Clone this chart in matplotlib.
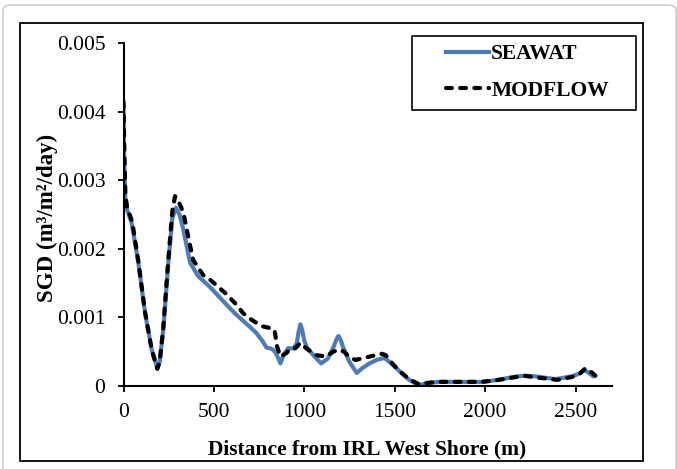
import matplotlib
matplotlib.use("Agg")
import matplotlib.pyplot as plt
from matplotlib.patches import Rectangle, FancyBboxPatch
from matplotlib.lines import Line2D

# distance from shore (m) and SGD (m3/m2/day) for each model
seawat_x = [0, 4, 10, 20, 45, 82, 119, 156, 187, 200, 220, 248, 270, 290, 310,
            331, 368, 414, 480, 561, 620, 662, 700, 736, 770, 791, 810, 827,
            845, 868, 885, 910, 940, 958, 968, 978, 988, 1000, 1015, 1050,
            1093, 1130, 1160, 1178, 1189, 1200, 1215, 1250, 1290, 1320, 1360,
            1400, 1443, 1480, 1525, 1580, 1620, 1645, 1700, 1745, 1850, 1983,
            2076, 2150, 2214, 2280, 2388, 2478, 2520, 2544, 2570, 2599]
seawat_y = [4.10, 3.30, 2.75, 2.57, 2.38, 1.80, 1.07, 0.53, 0.26, 0.35, 0.82,
            1.80, 2.45, 2.60, 2.50, 2.28, 1.80, 1.60, 1.44, 1.21, 1.05, 0.95,
            0.86, 0.77, 0.65, 0.56, 0.55, 0.53, 0.47, 0.33, 0.45, 0.55, 0.55,
            0.62, 0.78, 0.90, 0.82, 0.66, 0.56, 0.45, 0.33, 0.40, 0.56, 0.68,
            0.73, 0.68, 0.56, 0.35, 0.19, 0.26, 0.33, 0.38, 0.41, 0.33, 0.22,
            0.09, 0.03, 0.02, 0.05, 0.06, 0.06, 0.06, 0.09, 0.13, 0.15, 0.14,
            0.10, 0.14, 0.18, 0.23, 0.20, 0.14]

modflow_x = [0, 4, 10, 20, 48, 82, 119, 156, 187, 200, 220, 248, 270, 285,
             300, 331, 368, 385, 440, 479, 561, 620, 662, 700, 736, 770, 802,
             835, 850, 868, 900, 928, 950, 978, 1010, 1065, 1120, 1160, 1189,
             1220, 1250, 1283, 1330, 1397, 1430, 1450, 1490, 1525, 1580, 1630,
             1660, 1745, 1983, 2076, 2214, 2300, 2400, 2478, 2520, 2555, 2580,
             2610]
modflow_y = [4.15, 3.50, 2.80, 2.60, 2.40, 1.82, 1.08, 0.53, 0.25, 0.35, 0.85,
             1.85, 2.55, 2.77, 2.72, 2.53, 2.05, 1.84, 1.62, 1.55, 1.36, 1.20,
             1.06, 0.98, 0.92, 0.87, 0.85, 0.82, 0.57, 0.43, 0.48, 0.55, 0.55,
             0.63, 0.55, 0.45, 0.43, 0.50, 0.53, 0.50, 0.42, 0.38, 0.41, 0.45,
             0.47, 0.45, 0.32, 0.22, 0.10, 0.03, 0.04, 0.06, 0.06, 0.09, 0.15,
             0.12, 0.09, 0.13, 0.17, 0.26, 0.22, 0.15]

x_ticks = [0, 500, 1000, 1500, 2000, 2500]
y_ticks = [0, 0.001, 0.002, 0.003, 0.004, 0.005]
y_tick_labels = ["0", "0.001", "0.002", "0.003", "0.004", "0.005"]

series_names = ["SEAWAT", "MODFLOW"]

BLUE = "#4a7ebb"
SERIF = "Liberation Serif"
W, H = 677, 469
DASH = (0, (1.4, 2.0))

fig = plt.figure(figsize=(W / 100, H / 100), dpi=100)

# frame around the whole picture and the chart area box
fig.patches.append(FancyBboxPatch((3 / W, -0.05), 673 / W, 1.05 - 5 / H,
                                  boxstyle="round,pad=0,rounding_size=0.012",
                                  transform=fig.transFigure, fill=False,
                                  edgecolor="#c4c4c4", linewidth=1.0))
fig.patches.append(Rectangle((20 / W, 1 - 461 / H), 623 / W, 438 / H,
                             transform=fig.transFigure, fill=False,
                             edgecolor="black", linewidth=1.3))

ax = fig.add_axes([123.5 / W, 1 - 386 / H, 488.2 / W, 342.7 / H])

sy = [v / 1000 for v in seawat_y]
my = [v / 1000 for v in modflow_y]

ax.plot(seawat_x, sy, color=BLUE, lw=3.0, solid_joinstyle="round",
        solid_capstyle="round")
ax.plot(modflow_x, my, color="black", lw=3.0, linestyle=DASH,
        dash_capstyle="round", dash_joinstyle="round")

ax.set_xlim(0, 2700)
ax.set_ylim(0, 0.005)
ax.set_xticks(x_ticks)
ax.set_xticklabels([str(t) for t in x_ticks])
ax.set_yticks(y_ticks)
ax.set_yticklabels(y_tick_labels)

for s in ["top", "right"]:
    ax.spines[s].set_visible(False)
for s in ["left", "bottom"]:
    ax.spines[s].set_linewidth(1.5)

ax.tick_params(axis="both", direction="out", length=4, width=1.3,
               labelsize=15.5)
ax.tick_params(axis="x", pad=8)
ax.tick_params(axis="y", pad=9)
for lab in ax.get_xticklabels() + ax.get_yticklabels():
    lab.set_fontfamily(SERIF)

ax.set_xlabel("Distance from IRL West Shore (m)", fontsize=15.5,
              fontweight="bold", fontfamily=SERIF)
ax.set_ylabel("SGD (m³/m²/day)", fontsize=16.5, fontweight="bold",
              fontfamily=SERIF)
ax.xaxis.set_label_coords(0.5, -0.155)
ax.yaxis.set_label_coords(-0.135, 0.49)

# legend box drawn separately, entries placed inside it
fig.patches.append(Rectangle((412 / W, 1 - 110 / H), 224 / W, 74 / H,
                             transform=fig.transFigure, fill=False,
                             edgecolor="black", linewidth=1.2))
handles = [Line2D([], [], color=BLUE, lw=3.0),
           Line2D([], [], color="black", lw=3.0, linestyle=DASH,
                  dash_capstyle="round")]
fig.legend(handles, series_names, loc="center left",
           bbox_to_anchor=(446 / W, 1 - 72.5 / H), frameon=False,
           borderpad=0, borderaxespad=0, handlelength=2.0,
           handletextpad=0.1, labelspacing=0.75,
           prop={"family": SERIF, "weight": "bold", "size": 15.5})

fig.savefig("out.png", dpi=100)
